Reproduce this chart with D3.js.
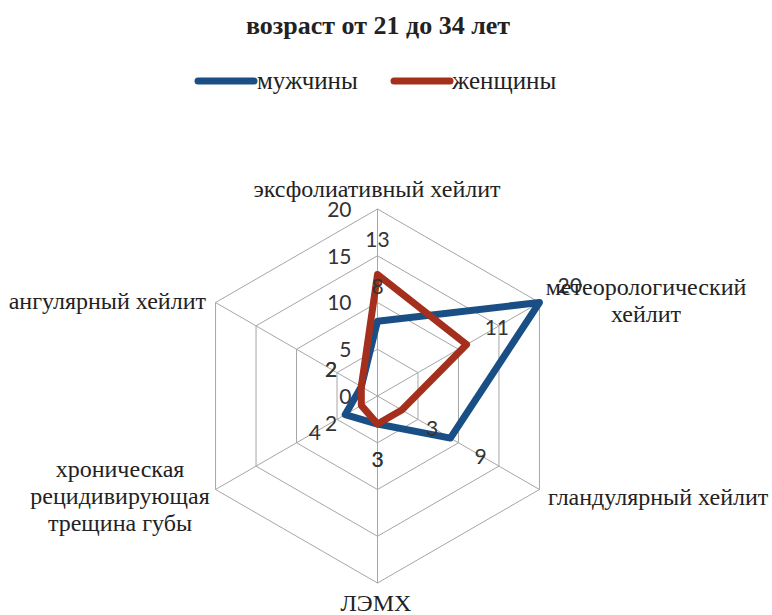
<!DOCTYPE html>
<html>
<head>
<meta charset="utf-8">
<script src="https://cdn.jsdelivr.net/npm/d3@7"></script>
<style>
  html, body { margin: 0; padding: 0; background: #fff; }
  svg { display: block; }
</style>
</head>
<body>
<svg id="chart" width="772" height="615"></svg>
<script>
// Categories, clockwise from the top spoke
const categories = [
  "эксфолиативный хейлит",
  "метеорологический|хейлит",
  "гландулярный хейлит",
  "ЛЭМХ",
  "хроническая|рецидивирующая|трещина губы",
  "ангулярный хейлит"
];
const seriesNames = ["мужчины", "женщины"];
const menValues = [8, 20, 9, 3, 4, 2];
const womenValues = [13, 11, 3, 3, 2, 2];
const tickValues = [0, 5, 10, 15, 20];
const chartTitle = "возраст от 21 до 34 лет";

const colors = ["#1a4f86", "#a32f1c"];
const serif = "'Liberation Serif', 'Times New Roman', serif";
const sans = "Lato, 'Liberation Sans', sans-serif";

const svg = d3.select("#chart");
const cx = 377.5, cy = 396, R = 187;

const r = d3.scaleLinear().domain([0, 20]).range([0, R]);
const angle = d3.scalePoint().domain(d3.range(categories.length))
  .range([0, 2 * Math.PI * (categories.length - 1) / categories.length]);

const pt = (i, v) => {
  const a = angle(i);
  return [cx + r(v) * Math.sin(a), cy - r(v) * Math.cos(a)];
};

// Title
svg.append("text")
  .attr("x", 378).attr("y", 34)
  .attr("text-anchor", "middle")
  .style("font-family", serif).style("font-weight", "bold").style("font-size", "26px")
  .attr("fill", "#222")
  .text(chartTitle);

// Legend
const legendItems = [
  { name: seriesNames[0], x1: 198, x2: 254, tx: 257 },
  { name: seriesNames[1], x1: 394, x2: 450, tx: 452 }
];
legendItems.forEach((d, i) => {
  svg.append("line")
    .attr("x1", d.x1).attr("x2", d.x2).attr("y1", 81).attr("y2", 81)
    .attr("stroke", colors[i]).attr("stroke-width", 7).attr("stroke-linecap", "round");
  svg.append("text")
    .attr("x", d.tx).attr("y", 89)
    .style("font-family", serif).style("font-size", "25px")
    .attr("fill", "#222")
    .text(d.name);
});

// Grid rings
const grid = svg.append("g").attr("fill", "none").attr("stroke", "#a6a6a6").attr("stroke-width", 1);
tickValues.filter(t => t > 0).forEach(t => {
  grid.append("path")
    .attr("d", d3.line()(categories.map((c, i) => pt(i, t))) + "Z");
});
// Spokes
categories.forEach((c, i) => {
  const [x, y] = pt(i, 20);
  grid.append("line").attr("x1", cx).attr("y1", cy).attr("x2", x).attr("y2", y);
});

// Value axis tick labels along the top spoke
svg.append("g").selectAll("text").data(tickValues).join("text")
  .attr("x", cx - 26)
  .attr("y", d => cy - r(d))
  .attr("dy", "0.38em")
  .attr("text-anchor", "end")
  .style("font-family", sans).style("font-size", "21px")
  .attr("fill", "#333")
  .text(d => d);

// Series polygons
const series = [menValues, womenValues];
series.forEach((vals, s) => {
  svg.append("path")
    .attr("d", d3.line()(vals.map((v, i) => pt(i, v))) + "Z")
    .attr("fill", "none")
    .attr("stroke", colors[s])
    .attr("stroke-width", 7)
    .attr("stroke-linejoin", "round");
});

// Data labels, set out from each point along its spoke
series.forEach((vals, s) => {
  svg.append("g").selectAll("text").data(vals).join("text")
    .attr("x", (v, i) => pt(i, v)[0] + 35 * Math.sin(angle(i)))
    .attr("y", (v, i) => pt(i, v)[1] - 35 * Math.cos(angle(i)))
    .attr("dy", "0.38em")
    .attr("text-anchor", "middle")
    .style("font-family", sans).style("font-size", "21px")
    .attr("fill", "#333")
    .text(v => v);
});

// Category labels
const catPos = [
  { x: 377, y: 197, anchor: "middle" },
  { x: 646, y: 295, anchor: "middle" },
  { x: 548, y: 505, anchor: "start" },
  { x: 376, y: 611, anchor: "middle" },
  { x: 120, y: 477, anchor: "middle" },
  { x: 206, y: 309, anchor: "end" }
];
categories.forEach((c, i) => {
  const lines = c.split("|");
  const t = svg.append("text")
    .attr("x", catPos[i].x).attr("y", catPos[i].y)
    .attr("text-anchor", catPos[i].anchor)
    .style("font-family", serif).style("font-size", "24px")
    .attr("fill", "#222");
  lines.forEach((l, k) => {
    t.append("tspan").attr("x", catPos[i].x).attr("dy", k === 0 ? 0 : 27).text(l);
  });
});
</script>
</body>
</html>
